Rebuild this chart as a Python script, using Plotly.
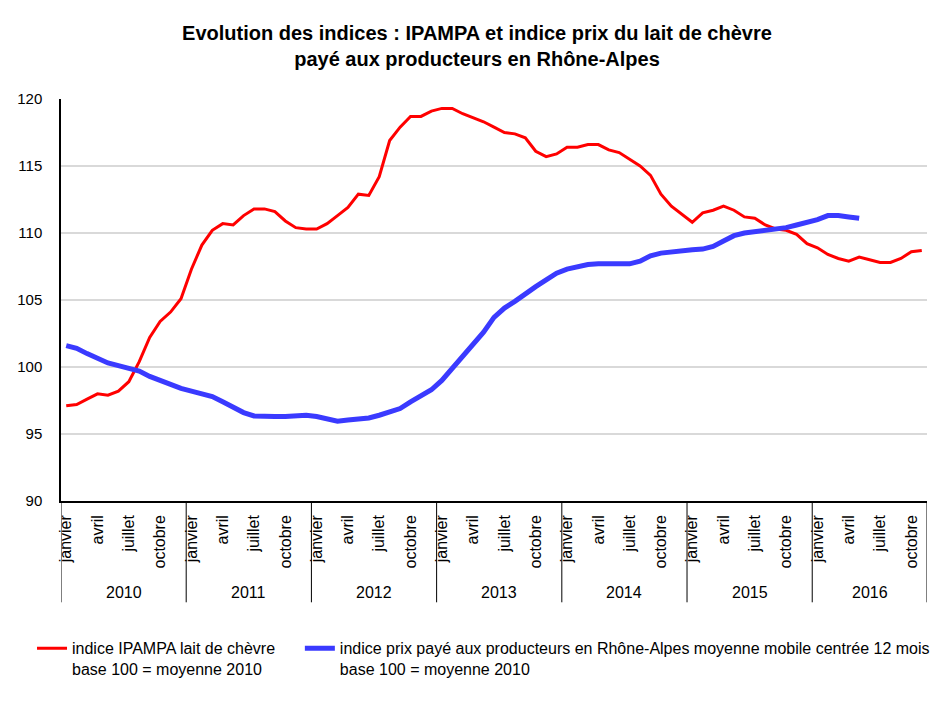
import plotly.graph_objects as go

years = ["2010", "2011", "2012", "2013", "2014", "2015", "2016"]
months = ["janvier", "février", "mars", "avril", "mai", "juin",
          "juillet", "août", "septembre", "octobre", "novembre", "décembre"]
shown_months = ["janvier", "avril", "juillet", "octobre"]

# indice IPAMPA lait de chèvre (janvier 2010 -> novembre 2016)
ipampa = [
    97.1, 97.2, 97.6, 98.0, 97.9, 98.2, 98.9, 100.4, 102.2, 103.4, 104.1, 105.1,
    107.3, 109.1, 110.2, 110.7, 110.6, 111.3, 111.8, 111.8, 111.6, 110.9, 110.4, 110.3,
    110.3, 110.7, 111.3, 111.9, 112.9, 112.8, 114.2, 116.9, 117.9, 118.7, 118.7, 119.1,
    119.3, 119.3, 118.9, 118.6, 118.3, 117.9, 117.5, 117.4, 117.1, 116.1, 115.7, 115.9,
    116.4, 116.4, 116.6, 116.6, 116.2, 116.0, 115.5, 115.0, 114.3, 112.9, 112.0, 111.4,
    110.8, 111.5, 111.7, 112.0, 111.7, 111.2, 111.1, 110.6, 110.3, 110.2, 109.9, 109.2,
    108.9, 108.4, 108.1, 107.9, 108.2, 108.0, 107.8, 107.8, 108.1, 108.6, 108.7,
]

# indice prix payé aux producteurs en Rhône-Alpes, moyenne mobile centrée 12 mois
# (janvier 2010 -> mai 2016)
prix_rhone_alpes = [
    101.6, 101.4, 101.0, 100.6, 100.3, 100.1, 99.9, 99.7, 99.3, 99.0, 98.7, 98.4,
    98.2, 98.0, 97.8, 97.4, 97.0, 96.6, 96.35, 96.3, 96.3, 96.3, 96.35, 96.4,
    96.3, 96.1, 95.95, 96.05, 96.1, 96.2, 96.4, 96.65, 96.9, 97.4, 97.8, 98.3,
    99.0, 99.9, 100.85, 101.7, 102.6, 103.7, 104.4, 104.9, 105.5, 106.0, 106.5, 107.0,
    107.3, 107.5, 107.65, 107.7, 107.7, 107.7, 107.7, 107.9, 108.3, 108.5, 108.6, 108.7,
    108.75, 108.8, 109.0, 109.4, 109.8, 110.0, 110.1, 110.15, 110.25, 110.4, 110.6, 110.8,
    111.0, 111.3, 111.3, 111.2, 111.1,
]

name_ipampa = "indice IPAMPA lait de chèvre<br>base 100 = moyenne 2010"
name_prix = ("indice prix payé aux producteurs en Rhône-Alpes moyenne mobile centrée 12 mois"
             "<br>base 100 = moyenne 2010")

n_cat = len(years) * 12 - 1  # janvier 2010 .. novembre 2016
FONT = "Liberation Sans, Arial, sans-serif"

def lab(i):
    return f"{months[i % 12]} {years[i // 12]}"

fig = go.Figure()
fig.add_trace(go.Scatter(
    x=list(range(len(ipampa))), y=ipampa, mode="lines", name=name_ipampa,
    line=dict(color="#ff0000", width=3), legend="legend", showlegend=True,
    text=[lab(i) for i in range(len(ipampa))], hovertemplate="%{text}: %{y}<extra></extra>"))
fig.add_trace(go.Scatter(
    x=list(range(len(prix_rhone_alpes))), y=prix_rhone_alpes, mode="lines", name=name_prix,
    line=dict(color="#3a3aff", width=5), legend="legend2", showlegend=True,
    text=[lab(i) for i in range(len(prix_rhone_alpes))], hovertemplate="%{text}: %{y}<extra></extra>"))

tickvals = [i for i in range(n_cat) if months[i % 12] in shown_months]
ticktext = [months[i % 12] for i in tickvals]

# The page body has an 8px margin: figure is 930x698, placed at (8, 8) on screen.
OFF = 8
W, H = 930, 698
# plot area in screen px: x 61..927.5, y 98.7..500.7
ml, mt = 61 - OFF, 98.7 - OFF
mr = W - (927.5 - OFF)
mb = H - (500.7 - OFF)
pw, ph = W - ml - mr, H - mt - mb

def py(screen_y):
    return (H - mb - (screen_y - OFF)) / ph

def px(screen_x):
    return ((screen_x - OFF) - ml) / pw

shapes = []
# year dividers below the axis
for k in range(len(years) + 1):
    xv = min(12 * k, n_cat) - 0.5
    shapes.append(dict(type="line", xref="x", yref="paper", x0=xv, x1=xv,
                       y0=0, y1=py(602), line=dict(color="#000000", width=1)))

annotations = []
for k, yr in enumerate(years):
    x0 = 12 * k - 0.5
    x1 = min(12 * (k + 1), n_cat) - 0.5
    annotations.append(dict(x=(x0 + x1) / 2, y=py(592), xref="x", yref="paper",
                            text=yr, showarrow=False, yanchor="middle",
                            font=dict(family=FONT, size=16, color="#000000")))

legend_common = dict(orientation="h", xanchor="left", y=py(631), yanchor="top",
                     valign="top", font=dict(family=FONT, size=16, color="#000000"),
                     itemwidth=30, bgcolor="rgba(0,0,0,0)", tracegroupgap=0)

fig.update_layout(
    width=W, height=H,
    showlegend=True,
    margin=dict(l=ml, r=mr, t=mt, b=mb, autoexpand=False),
    paper_bgcolor="white", plot_bgcolor="white",
    font=dict(family=FONT, color="#000000"),
    title=dict(
        text="<b>Evolution des indices : IPAMPA et indice prix du lait de chèvre<br>"
             "payé aux producteurs en Rhône-Alpes</b>",
        x=(477 - OFF) / W, xanchor="center", y=1 - 32 / H, yanchor="top", yref="container",
        font=dict(family=FONT, size=20, color="#000000")),
    xaxis=dict(range=[-0.5, n_cat - 0.5], tickmode="array", tickvals=tickvals,
               ticktext=ticktext, tickangle=-90, showgrid=False, zeroline=False,
               showline=True, linecolor="#000000", linewidth=1.5, ticks="",
               ticklabelstandoff=6,
               tickfont=dict(family=FONT, size=16, color="#000000")),
    yaxis=dict(range=[90, 120], dtick=5, tick0=90, showgrid=True, gridcolor="#d9d9d9",
               gridwidth=1.5, zeroline=False, showline=True, linecolor="#000000",
               linewidth=1.5, ticks="", ticklabelstandoff=14,
               tickfont=dict(family=FONT, size=15, color="#000000")),
    legend=dict(x=px(32), **legend_common),
    legend2=dict(x=px(300), **legend_common),
    shapes=shapes, annotations=annotations,
)

fig.write_html("out.html")
